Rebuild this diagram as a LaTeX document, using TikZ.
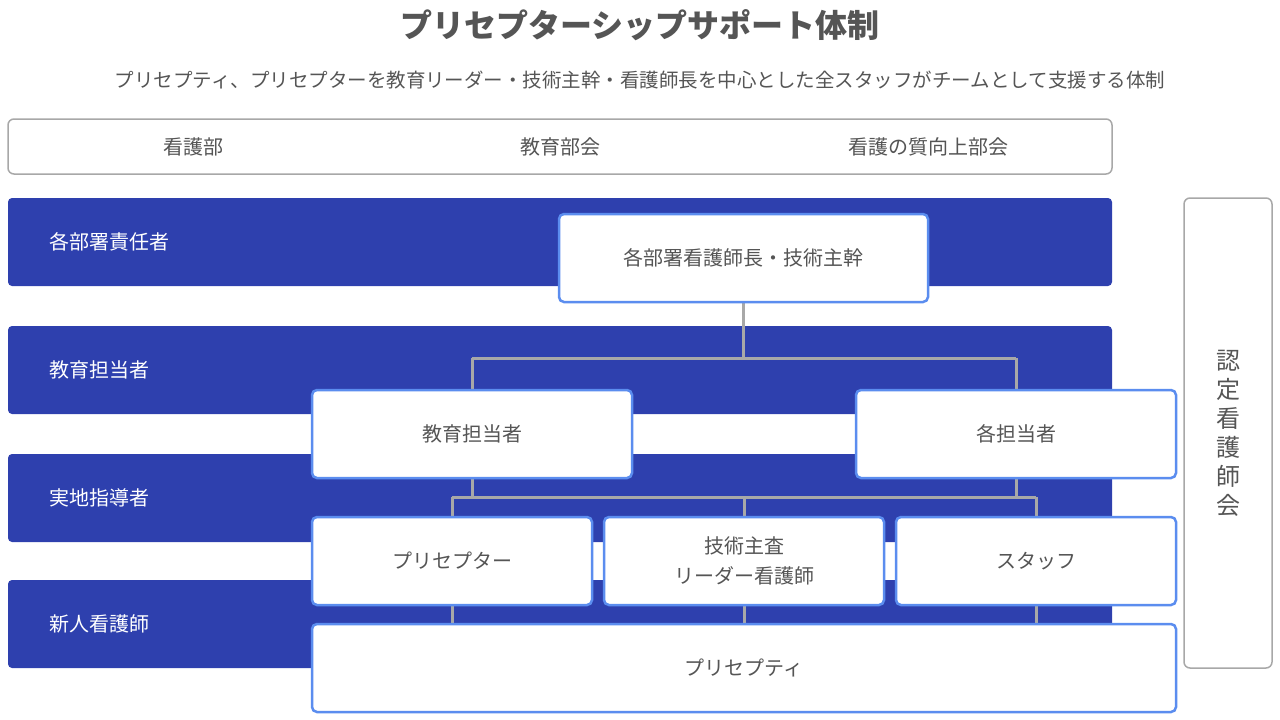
\documentclass[tikz,border=0pt]{standalone}
\usepackage{fontspec}
\setmainfont{Noto Sans CJK JP}
\definecolor{band}{HTML}{2E40AE}
\definecolor{bbord}{HTML}{5B8DEF}
\definecolor{txt}{HTML}{555555}
\definecolor{conn}{HTML}{A8A8A8}
\tikzset{
 bandbox/.style={fill=band,rounded corners=4pt},
 wbox/.style={draw=bbord,line width=2.5pt,fill=white,rounded corners=5pt},
 gbox/.style={draw=conn,line width=1.5pt,fill=white,rounded corners=6pt},
 lbl/.style={text=txt,font=\fontsize{20}{24}\selectfont,align=center},
 wl/.style={text=white,font=\fontsize{20}{24}\selectfont,anchor=west},
 cn/.style={draw=conn,line width=3pt}
}
\begin{document}
\begin{tikzpicture}[x=1pt,y=-1pt]
\useasboundingbox (0,0) rectangle (1280,720);
\node[text=txt,font=\bfseries\fontsize{32}{36}\selectfont] (title) at (640,25) {プリセプターシップサポート体制};
\node[text=txt,font=\fontsize{19.5}{22}\selectfont] (sub) at (640,80) {プリセプティ、プリセプターを教育リーダー・技術主幹・看護師長を中心とした全スタッフがチームとして支援する体制};
\draw[gbox] (8,119) rectangle (1112,174);
\node[lbl] (t1) at (193,147) {看護部};
\node[lbl] (t2) at (560,147) {教育部会};
\node[lbl] (t3) at (928,147) {看護の質向上部会};
\fill[bandbox] (8,198) rectangle (1112,286);
\fill[bandbox] (8,326) rectangle (1112,414);
\fill[bandbox] (8,454) rectangle (1112,542);
\fill[bandbox] (8,580) rectangle (1112,668);
\node[wl] (b1) at (46,242) {各部署責任者};
\node[wl] (b2) at (46,370) {教育担当者};
\node[wl] (b3) at (46,498) {実地指導者};
\node[wl] (b4) at (46,624) {新人看護師};
\draw[gbox] (1184,198) rectangle (1272,668);
\node[lbl,font=\fontsize{24}{29}\selectfont] (nin) at (1228,433) {認\\定\\看\\護\\師\\会};
% connectors
\coordinate (j1) at (743,358);
\coordinate (j2) at (472,358);
\coordinate (j3) at (1016,358);
\coordinate (k1) at (452,497);
\coordinate (k2) at (1036,497);
\draw[cn] (743,302) -- (j1);
\draw[cn] (j2) -- (j3);
\draw[cn] (j2) -- (472,390);
\draw[cn] (j3) -- (1016,390);
\draw[cn] (472,478) -- (472,497);
\draw[cn] (1016,478) -- (1016,497);
\draw[cn] (k1) -- (k2);
\draw[cn] (k1) -- (452,624);
\draw[cn] (744,497) -- (744,624);
\draw[cn] (k2) -- (1036,624);
% boxes
\draw[wbox] (559,214) rectangle (928,302);
\node[lbl] (n1) at (743,258) {各部署看護師長・技術主幹};
\draw[wbox] (312,390) rectangle (632,478);
\node[lbl] (n2) at (472,434) {教育担当者};
\draw[wbox] (856,390) rectangle (1176,478);
\node[lbl] (n3) at (1016,434) {各担当者};
\draw[wbox] (312,517) rectangle (592,605);
\node[lbl] (n4) at (452,561) {プリセプター};
\draw[wbox] (604,517) rectangle (884,605);
\node[lbl,font=\fontsize{20}{30}\selectfont] (n5) at (744,561) {技術主査\\リーダー看護師};
\draw[wbox] (896,517) rectangle (1176,605);
\node[lbl] (n6) at (1036,561) {スタッフ};
\draw[wbox] (312,624) rectangle (1176,712);
\node[lbl] (n7) at (744,668) {プリセプティ};
\end{tikzpicture}
\end{document}
